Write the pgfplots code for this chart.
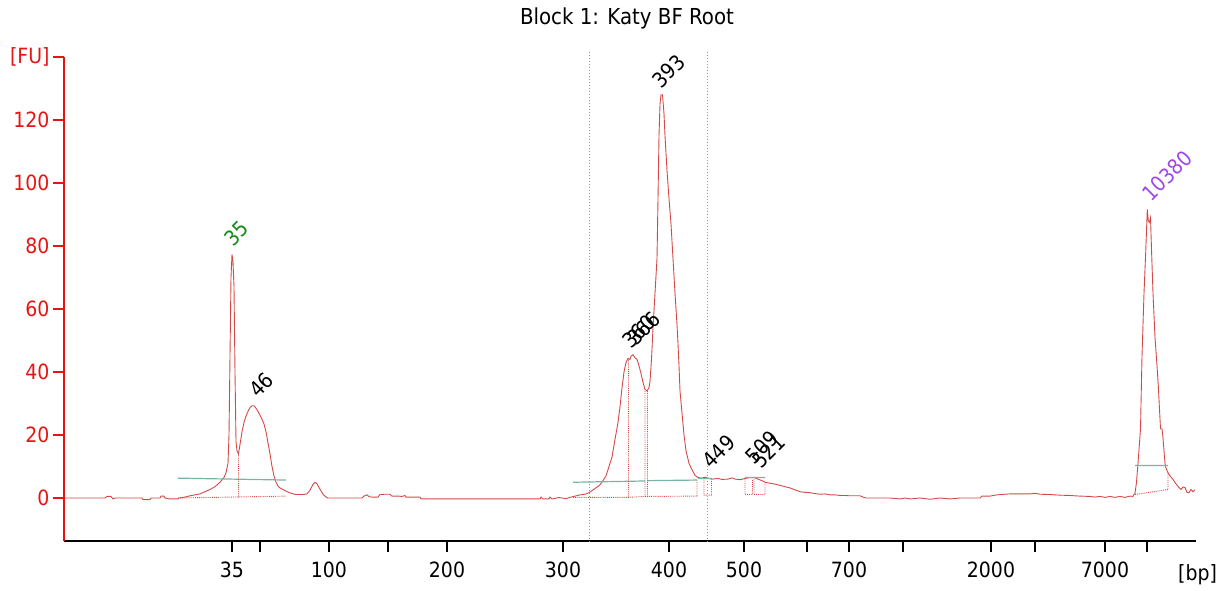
\documentclass[border=0pt]{standalone}
\usepackage{fontspec}
\setmainfont{DejaVu Sans Condensed}
\usepackage{pgfplots}
\pgfplotsset{compat=1.18}
\definecolor{curve}{RGB}{214,72,72}
\definecolor{axred}{RGB}{232,20,20}
\definecolor{tealb}{RGB}{120,180,165}
\definecolor{bluedot}{RGB}{140,140,215}
\definecolor{grn}{RGB}{20,140,20}
\definecolor{purp}{RGB}{160,70,235}
\begin{document}
\begin{tikzpicture}
\path[use as bounding box] (-64pt,-49pt) rectangle (1152pt,541pt);
\begin{axis}[
  at={(0,0)}, anchor=south west, scale only axis,
  width=1132pt, height=484pt,
  xmin=64, xmax=1196, ymin=-13.65, ymax=140,
  axis x line=bottom, axis y line=left,
  x axis line style={-, black, line width=2pt},
  y axis line style={-, axred, line width=2pt},
  tick align=outside, major tick length=11pt,
  xtick style={black, line width=2pt},
  ytick style={axred, line width=2pt},
  xtick={232,260,329,388,447,563,669,744,807,849,903,991,1035,1105,1147},
  xticklabels={35,,100,,200,300,400,500,,700,,2000,,7000,},
  ytick={0,20,40,60,80,100,120,140},
  yticklabels={0,20,40,60,80,100,120,{[FU]}},
  yticklabel style={text=axred},
  xticklabel style={yshift=-6pt},
  ticklabel style={font=\fontsize{21}{25}\selectfont},
  /pgf/number format/assume math mode=true,
  unbounded coords=jump,
  clip=false,
]
% main trace
\addplot[curve, line width=0.9pt] coordinates {
(65,0)(105,0)(107,0.5)(111,0.5)(113,-0.3)(115,0)(142,0)(143,-0.5)(150,-0.5)(151,0)(160,0)(161,0.6)(164,0.6)(165,0)
(170,-0.3)(178,-0.3)(179,0)(185,0.3)(190,0.7)(195,1)(200,1.3)(205,2)(210,2.7)(215,3.6)(220,5)(224,6.5)(226,8)(228,11)
(229,20)(230,45)(231,70)(232,77.3)(233,75)(234,67)(235,40)(236,18)(237,15)(238.5,14)(240,17)(242,21)(244,24)(246,26)
(248,27.5)(250,28.7)(252,29.3)(254,29.3)(256,28.5)(258,27.5)(260,26.3)(262,25)(264,23.5)(266,21)(268,17.5)(270,14)
(272,10)(274,7)(276,5)(278,3.8)(280,3.2)(284,2.5)(288,1.9)(292,1.4)(296,1.1)(303,1.1)(307,1.3)(310,2.5)(313,4.3)
(315,5)(317,4.5)(320,2.8)(323,1.2)(326,0.3)(328,0)(362,0)(364,0.6)(367,1)(369,0.4)(372,0.3)(378,0.3)(380,1.1)
(385,1.2)(390,1.2)(392,0.6)(398,0.6)(402,0.5)(405,0.8)(406,0.3)(420,0.3)(421,-0.3)(470,-0.3)(500,-0.3)(540,-0.3)
(541,0.3)(543,-0.3)(549,-0.3)(550,0.3)(552,-0.3)(558,0.1)(560,0.1)(566,-0.2)(570,0.2)(575,0.6)(580,1)(585,1.2)
(589,1.7)(595,3)(600,4.2)(603,5.5)(606,7)(609,10)(612,13)(615,18.6)(618,24)(620,29)(622,35)(624,40)(626,43)
(628,44.3)(630,44)(631,45)(633,45.5)(635,44.5)(637,44)(639,42)(641,39.5)(643,36.7)(645,34.5)(647,34)(649,35)
(650,37)(651.5,44)(653,54)(655,65)(657,76)(658,95)(659,115)(660,125)(661,128)(662.5,128)(664,122)(665,115)
(667,104)(669,95)(671,87)(673,76)(675,65)(677,55)(678,49)(679,42)(680,34)(682,27)(684,20)(686,15)(689,11)
(692,9)(695,7.2)(698,6.5)(702,6.3)(705,6.6)(708,6.3)(712,6)(718,6.2)(722,5.9)(728,6)(732,6.4)(735,6)(740,5.8)
(745,6.2)(750,6.5)(755,6.4)(758,6)(762,5.5)(765,5)(770,4.7)(775,4.4)(780,4)(785,3.6)(790,3.2)(795,2.6)(800,2)
(805,1.8)(810,1.7)(815,1.4)(820,1.2)(825,1.3)(830,1)(835,1)(840,0.8)(845,0.8)(850,0.7)(860,0.7)(863,0.3)
(866,0)(880,0)(890,0)(900,-0.3)(905,0)(910,-0.3)(920,0)(930,-0.4)(940,0)(950,-0.3)(960,0)(970,0)(980,0)
(982,0.6)(990,0.6)(995,0.9)(1000,1.1)(1010,1.3)(1020,1.3)(1030,1.3)(1035,1.5)(1040,1.2)(1050,1.1)(1060,0.9)
(1070,0.8)(1080,0.6)(1090,0.5)(1095,0.3)(1100,0.5)(1105,0.2)(1110,0.5)(1115,0.2)(1120,0.5)(1125,0.2)(1130,0.6)
(1133,0.5)(1134,1.2)(1135,1.5)(1136.5,5)(1138,11)(1140.5,22)(1142,45)(1144,65)(1145.7,78)(1147.3,91.6)
(1148.3,88)(1149.3,87.5)(1150.5,89)(1151.7,77)(1153,65)(1155,51)(1157,42)(1158.3,35.5)(1160.5,22)(1162,22)
(1163,19)(1165,11)(1166,9.5)(1168,8)(1170,7)(1173,5.9)(1176,4.5)(1178,3.7)(1181,2.7)(1183,3.5)(1185,3.3)
(1187,1.8)(1189,1.7)(1191,2.7)(1193,2)(1195,2.6)
};
% teal peak-height lines
\addplot[tealb, line width=1.2pt] coordinates {
(178,6.3)(286,5.7)(286,nan)
(573,5.0)(645,5.4)(645,nan)
(647,5.5)(697,5.7)(697,nan)
(698,6.2)(712,6.2)(712,nan)
(745,6.5)(765,6.5)(765,nan)
(1135,10.3)(1168,10.3)
};
% red dotted baselines / peak borders
\addplot[curve, densely dotted, line width=0.9pt] coordinates {
(178,0)(286,0.6)(286,nan)
(238.5,0.2)(238.5,14)(238.5,nan)
(573,0.2)(628,0.2)(645,0.5)(697,0.6)(697,nan)
(628.5,0.2)(628.5,44)(628.5,nan)
(645,0.5)(645,34.5)(645,nan)
(647.5,0.5)(647.5,34)(647.5,nan)
(697,0.6)(697,5.6)(697,nan)
(704,5.8)(704,0.9)(711.5,0.9)(711.5,5.8)(711.5,nan)
(745,5.9)(745,1.1)(752.5,1.1)(752.5,5.9)(752.5,nan)
(754,5.9)(754,1.1)(765,1.1)(765,5.0)(765,nan)
(1135,1.1)(1168,2.7)(1168,8)
};
% blue dotted region markers
\addplot[bluedot, dotted, line width=1pt] coordinates {
(589,141.7)(589,-13.65)(589,nan)
(707,141.7)(707,-13.65)
};
% texts
\node[anchor=base, inner sep=0pt, font=\fontsize{22}{26}\selectfont] at (axis cs:627,150.3) {Block 1: Katy BF Root};
\node[anchor=base west, inner sep=0pt, font=\fontsize{21}{25}\selectfont] at (axis cs:1178,-26.2) {[bp]};
\begin{scope}[every node/.style={rotate=45, anchor=base west, inner sep=0pt, font=\fontsize{21}{25}\selectfont}]
\node[text=grn] at (axis cs:233,79.5) {35};
\node at (axis cs:258,31.5) {46};
\node at (axis cs:631,47) {360};
\node at (axis cs:636,48) {366};
\node at (axis cs:661,129.7) {393};
\node at (axis cs:711,9) {449};
\node at (axis cs:754,10.3) {509};
\node at (axis cs:761,9) {521};
\node[text=purp] at (axis cs:1151,93.8) {10380};
\end{scope}
\end{axis}
\end{tikzpicture}
\end{document}
